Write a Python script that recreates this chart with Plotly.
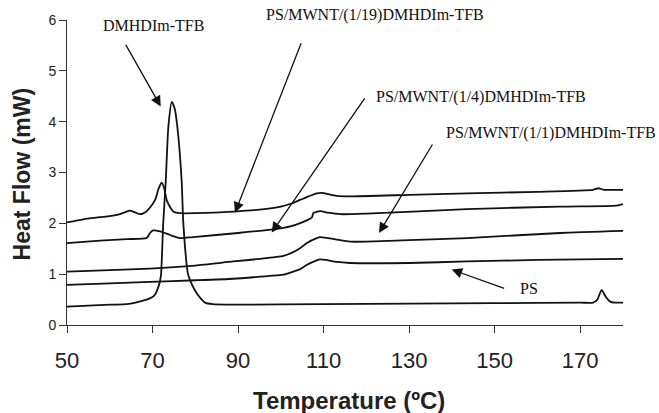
import plotly.graph_objects as go

# ---- data ----
t_dm = [50, 55, 60, 64, 66, 68.6, 69.8, 70.6, 71.4, 71.8, 72.0, 72.5, 73.1, 73.7, 74.5,
        75.2, 75.8, 76.8, 77.2, 78.3, 79.3, 80.3, 81.3, 82.3, 84, 90, 110, 130, 150, 170,
        173, 174, 175, 176, 177, 178, 180]
y_dm = [0.36, 0.38, 0.40, 0.41, 0.44, 0.50, 0.54, 0.60, 0.76, 0.89, 1.0, 2.0, 2.85, 3.9, 4.39,
        4.25, 3.9, 2.85, 2.0, 1.0, 0.78, 0.63, 0.52, 0.44, 0.41, 0.40, 0.41, 0.42, 0.43, 0.44,
        0.44, 0.50, 0.69, 0.55, 0.46, 0.44, 0.44]

t_19 = [50, 53.8, 57.7, 60, 62.4, 63.6, 64.7, 65.8, 67, 68.5, 69.5, 70.6, 71.4, 72.1, 72.7,
        73.3, 74.1, 74.9, 76.4, 80, 88.9, 95, 100, 102.5, 104.5, 106.5, 108.4, 109.6, 110.7,
        113.1, 116, 130, 143.5, 160, 173, 174.3, 175.5, 180]
y_19 = [2.02, 2.08, 2.12, 2.14, 2.18, 2.22, 2.25, 2.22, 2.18, 2.23, 2.32, 2.46, 2.68, 2.80, 2.70,
        2.46, 2.32, 2.23, 2.20, 2.20, 2.23, 2.27, 2.33, 2.39, 2.46, 2.53, 2.59, 2.60, 2.58,
        2.54, 2.53, 2.56, 2.59, 2.62, 2.66, 2.69, 2.66, 2.66]

t_14 = [50, 57.7, 64, 68.6, 69.4, 70.1, 71.8, 74.1, 76.4, 79.5, 90, 99, 102.2, 105, 106.8,
        107.3, 107.6, 109.2, 111, 113.9, 120, 143.5, 165.3, 178.5, 180]
y_14 = [1.61, 1.66, 1.69, 1.71, 1.81, 1.86, 1.84, 1.77, 1.71, 1.73, 1.81, 1.89, 1.94, 2.02, 2.09,
        2.12, 2.20, 2.24, 2.21, 2.18, 2.19, 2.28, 2.33, 2.35, 2.38]

t_11 = [50, 60, 69.4, 80, 88.9, 95, 100.6, 102.5, 104.5, 106, 108.4, 109.2, 111, 113.1,
        116.2, 120, 130, 143.5, 165.3, 180]
y_11 = [1.05, 1.08, 1.11, 1.17, 1.25, 1.30, 1.36, 1.42, 1.51, 1.61, 1.71, 1.73, 1.71, 1.68,
        1.64, 1.64, 1.67, 1.71, 1.81, 1.85]

t_ps = [50, 60, 69.4, 80, 88.9, 95, 100.6, 102.5, 104.5, 106, 108.4, 109.2, 110.5, 113.1,
        116.2, 130, 143.5, 160, 180]
y_ps = [0.79, 0.82, 0.85, 0.88, 0.91, 0.95, 0.99, 1.04, 1.10, 1.18, 1.27, 1.29, 1.28, 1.24,
        1.22, 1.22, 1.25, 1.28, 1.30]

series = [(t_dm, y_dm), (t_19, y_19), (t_14, y_14), (t_11, y_11), (t_ps, y_ps)]

labels = ["DMHDIm-TFB", "PS/MWNT/(1/19)DMHDIm-TFB", "PS/MWNT/(1/4)DMHDIm-TFB",
          "PS/MWNT/(1/1)DMHDIm-TFB", "PS"]
# label centres given as fractions of the plot area (paper coordinates)
label_xy = [(0.155, 0.981), (0.554, 1.016), (0.744, 0.749), (0.870, 0.629), (0.831, 0.121)]
arrow_tail = [(63.56, 5.54), (104.88, 5.57), (119.84, 4.49), (135.65, 3.58), (152.57, 0.71)]
arrow_head = [(71.91, 4.30), (89.28, 2.21), (97.86, 1.82), (122.95, 1.81), (139.95, 1.09)]

x_ticks = [50, 70, 90, 110, 130, 150, 170]
y_ticks = [0, 1, 2, 3, 4, 5, 6]
x_title = "Temperature (ºC)"
y_title = "Heat Flow (mW)"

fig = go.Figure()
for tx, ty in series:
    fig.add_trace(go.Scatter(x=tx, y=ty, mode="lines",
                             line=dict(color="#111111", width=1.8, shape="spline", smoothing=0.6),
                             showlegend=False, hoverinfo="skip"))

for lab, (lx, ly) in zip(labels, label_xy):
    fig.add_annotation(x=lx, y=ly, xref="paper", yref="paper", text=lab, showarrow=False,
                       font=dict(family="Liberation Serif", size=16, color="#111111"),
                       xanchor="center", yanchor="middle")

for (tx, ty), (hx, hy) in zip(arrow_tail, arrow_head):
    fig.add_annotation(x=hx, y=hy, ax=tx, ay=ty, xref="x", yref="y", axref="x", ayref="y",
                       text="", showarrow=True, arrowhead=2, arrowsize=1.6, arrowwidth=1.3,
                       arrowcolor="#111111", standoff=0)

# axis titles as annotations so they do not disturb the margins
fig.add_annotation(x=0.508, y=-0.246, xref="paper", yref="paper", text="<b>" + x_title + "</b>",
                   showarrow=False, xanchor="center", yanchor="middle",
                   font=dict(family="Liberation Sans", size=24, color="#222222"))
fig.add_annotation(x=-0.081, y=0.497, xref="paper", yref="paper", text="<b>" + y_title + "</b>",
                   showarrow=False, xanchor="center", yanchor="middle", textangle=-90,
                   font=dict(family="Liberation Sans", size=23, color="#222222"))

axis_common = dict(showline=True, linecolor="#333333", linewidth=1, ticks="outside",
                   ticklen=7, tickcolor="#333333", showgrid=False, zeroline=False,
                   mirror=False, automargin=False)

fig.update_xaxes(range=[50, 180], tickvals=x_ticks, ticktext=[str(v) for v in x_ticks],
                 tickfont=dict(family="Liberation Sans", size=22, color="#222222"),
                 ticklabelstandoff=9, **axis_common)
fig.update_yaxes(range=[0, 6], tickvals=y_ticks, ticktext=[str(v) for v in y_ticks],
                 tickfont=dict(family="Liberation Sans", size=14, color="#222222"),
                 **axis_common)

fig.update_layout(width=659, height=413, margin=dict(l=67, r=36, t=20, b=88),
                  plot_bgcolor="white", paper_bgcolor="white")

fig.write_html("out.html")
